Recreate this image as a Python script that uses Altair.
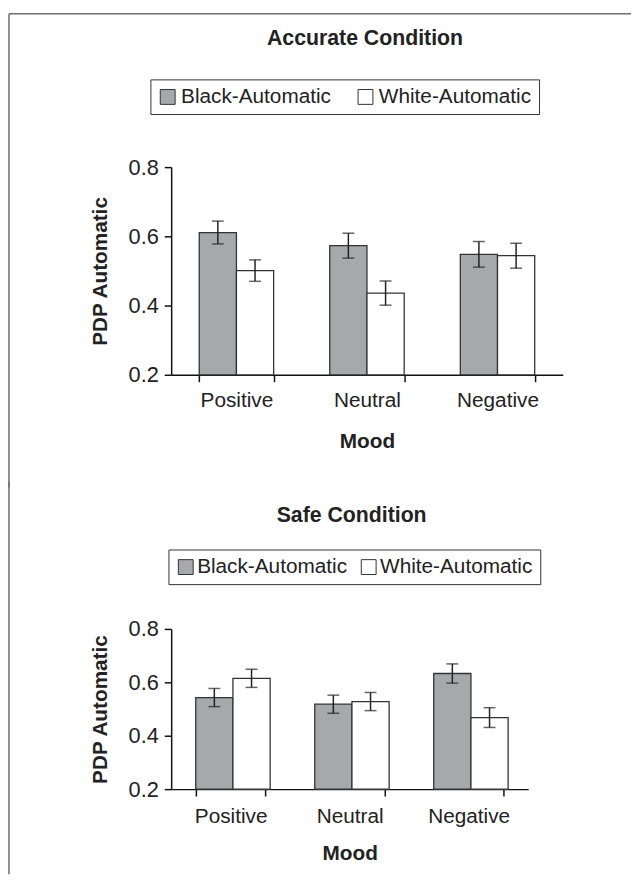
import altair as alt
import pandas as pd

moods = ["Positive", "Neutral", "Negative"]
series = ["Black-Automatic", "White-Automatic"]
colors = ["#a7a8ab", "#ffffff"]
y_ticks = [0.2, 0.4, 0.6, 0.8]

acc_black = [0.611, 0.573, 0.548]
acc_black_err = [0.033, 0.036, 0.037]
acc_white = [0.501, 0.436, 0.544]
acc_white_err = [0.031, 0.035, 0.036]

safe_black = [0.543, 0.518, 0.633]
safe_black_err = [0.034, 0.034, 0.036]
safe_white = [0.615, 0.528, 0.468]
safe_white_err = [0.034, 0.034, 0.037]

FONT = "Liberation Sans"
INK = "#222222"
FRAME = "#6f6f6f"


def table(black, berr, white, werr):
    rows = []
    for i, m in enumerate(moods):
        for s, v, e in ((series[0], black[i], berr[i]), (series[1], white[i], werr[i])):
            rows.append({"mood": m, "series": s, "v": v, "lo": v - e, "hi": v + e})
    return pd.DataFrame(rows)


def panel(df, title, W, H, pad, lab_pad, title_pad, leg_x, leg_y, lab_off, col_pad,
          title_offset, title_dx, line_top, line_bottom, top_line=False):
    x = alt.X("mood:N", sort=moods,
              scale=alt.Scale(paddingInner=pad, paddingOuter=pad / 2),
              axis=alt.Axis(title="Mood", labelAngle=0, tickBand="extent", tickSize=7,
                            labelPadding=lab_pad, titlePadding=title_pad))
    xo = alt.XOffset("series:N", sort=series, scale=alt.Scale(paddingInner=0, paddingOuter=0))
    y_axis = alt.Axis(values=y_ticks, format=".1f", title="PDP Automatic", tickSize=7,
                      labelPadding=6, titlePadding=18, labelFontSize=22)
    yscale = alt.Scale(domain=[0.2, 0.8], zero=False, nice=False)

    base = alt.Chart(df)
    bars = base.mark_bar(stroke="#333333", strokeWidth=1.3).encode(
        x=x, xOffset=xo,
        y=alt.Y("v:Q", scale=yscale, axis=y_axis),
        y2=alt.datum(0.2),
        color=alt.Color("series:N", sort=series,
                        scale=alt.Scale(domain=series, range=colors),
                        legend=alt.Legend(orient="none", legendX=leg_x, legendY=leg_y,
                                          direction="horizontal", title=None,
                                          strokeColor="#333333", padding=7,
                                          labelFontSize=21, labelFont=FONT, labelColor=INK,
                                          symbolType="square", symbolSize=225,
                                          symbolStrokeColor="#333333", symbolStrokeWidth=1,
                                          labelOffset=lab_off, columnPadding=col_pad,
                                          labelLimit=400)),
    )
    err = base.mark_rule(color=INK, strokeWidth=1.5).encode(
        x=x, xOffset=xo, y=alt.Y("lo:Q", scale=yscale), y2="hi:Q")
    cap_lo = base.mark_tick(color=INK, size=12, thickness=1.5).encode(
        x=x, xOffset=xo, y=alt.Y("lo:Q", scale=yscale))
    cap_hi = base.mark_tick(color=INK, size=12, thickness=1.5).encode(
        x=x, xOffset=xo, y=alt.Y("hi:Q", scale=yscale))

    one = alt.Chart(pd.DataFrame({"k": [0]}))
    left = one.mark_rule(color=FRAME, strokeWidth=1.5).encode(
        x=alt.value(-164), y=alt.value(line_top), y2=alt.value(line_bottom))
    layers = [left, bars, err, cap_lo, cap_hi]
    if top_line:
        topl = one.mark_rule(color=FRAME, strokeWidth=1.5).encode(
            x=alt.value(-164), x2=alt.value(465), y=alt.value(line_top))
        layers.insert(0, topl)

    return alt.layer(*layers).properties(
        width=W, height=H,
        title=alt.TitleParams(title, frame="group", anchor="middle", offset=title_offset,
                              baseline="alphabetic", dx=title_dx, fontSize=21.5,
                              fontWeight="bold", font=FONT, color=INK),
    )


top = panel(table(acc_black, acc_black_err, acc_white, acc_white_err),
            "Accurate Condition", 396, 210, 0.43, 8.5, 20, -21, -88.7, 3, 24,
            -54, -2, -155, 324, top_line=True)
bottom = panel(table(safe_black, safe_black_err, safe_white, safe_white_err),
               "Safe Condition", 361, 162, 0.413, 10, 16, -2.75, -80.3, 1, 11,
               -63, 2, -148.8, 248)

chart = alt.vconcat(top, bottom, spacing=-8).resolve_scale(
    x="independent", y="independent", color="independent"
).resolve_legend(color="independent").properties(padding=0).configure(
    font=FONT
).configure_view(stroke=None).configure_axis(
    domainColor="#111111", domainWidth=1.5, tickColor="#111111", tickWidth=1.5,
    labelFont=FONT, labelFontSize=21, labelColor=INK, titleFont=FONT, titleFontSize=21,
    titleFontWeight="bold", titleColor=INK, grid=False
)

chart.save("out.html", embed_options={"renderer": "svg", "actions": False})
